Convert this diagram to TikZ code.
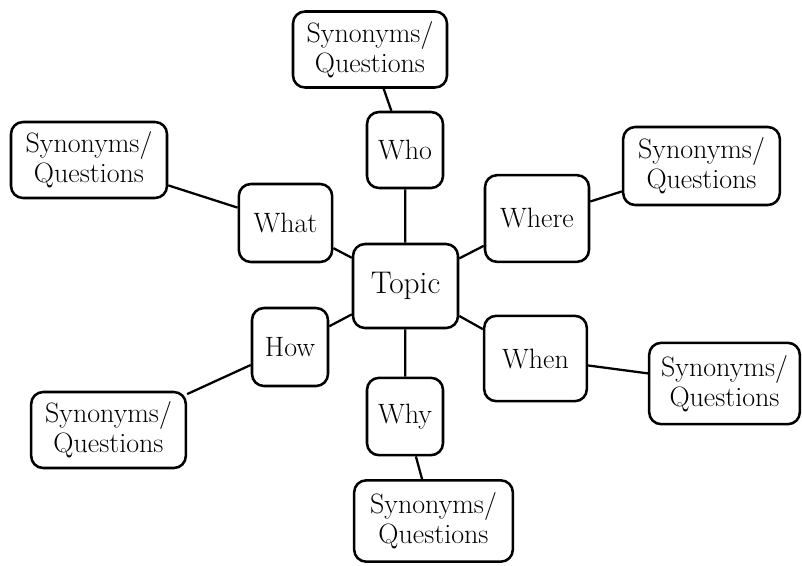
\documentclass[tikz,border=0pt]{standalone}
\begin{document}
\begin{tikzpicture}[x=0.75pt,y=-0.75pt,
  box/.style={draw=black, line width=1.9pt, rounded corners=9pt, fill=white,
    inner sep=0pt, align=center, font=\fontsize{21}{22.5}\selectfont},
  topicbox/.style={box, font=\fontsize{23.5}{25}\selectfont},
  link/.style={draw=black, line width=1.7pt}]
\useasboundingbox (0,0) rectangle (802,565);
% centre and hubs
\node[topicbox, minimum width=78.75pt, minimum height=63pt] (topic) at (405.5,286) {Topic};
\node[box, minimum width=57pt, minimum height=57pt] (who) at (405,150) {Who};
\node[box, minimum width=70pt, minimum height=58.5pt] (what) at (285.5,223) {What};
\node[box, minimum width=78pt, minimum height=65pt] (where) at (537,218.5) {Where};
\node[box, minimum width=57pt, minimum height=58.5pt] (how) at (290,347) {How};
\node[box, minimum width=77pt, minimum height=64pt] (when) at (535.5,358.5) {When};
\node[box, minimum width=57pt, minimum height=58pt] (why) at (405,416.5) {Why};
% outer boxes
\node[box, minimum width=115.5pt, minimum height=57pt] (s1) at (370,49.5) {Synonyms/\\Questions};
\node[box, minimum width=117pt, minimum height=57pt] (s2) at (89,160) {Synonyms/\\Questions};
\node[box, minimum width=117.5pt, minimum height=58.5pt] (s3) at (701.5,166) {Synonyms/\\Questions};
\node[box, minimum width=116pt, minimum height=57pt] (s4) at (108.5,430) {Synonyms/\\Questions};
\node[box, minimum width=113pt, minimum height=61pt] (s5) at (724.5,383.5) {Synonyms/\\Questions};
\node[box, minimum width=119pt, minimum height=61pt] (s6) at (433.5,521) {Synonyms/\\Questions};
% connectors
\draw[link] (topic) -- (who);
\draw[link] (topic) -- (what);
\draw[link] (topic) -- (where);
\draw[link] (topic) -- (how);
\draw[link] (topic) -- (when);
\draw[link] (topic) -- (why);
\draw[link] (who) -- (s1);
\draw[link] (what) -- (s2);
\draw[link] (where) -- (s3);
\draw[link] (how) -- (s4);
\draw[link] (when) -- (s5);
\draw[link] (why) -- (s6);
\end{tikzpicture}
\end{document}
